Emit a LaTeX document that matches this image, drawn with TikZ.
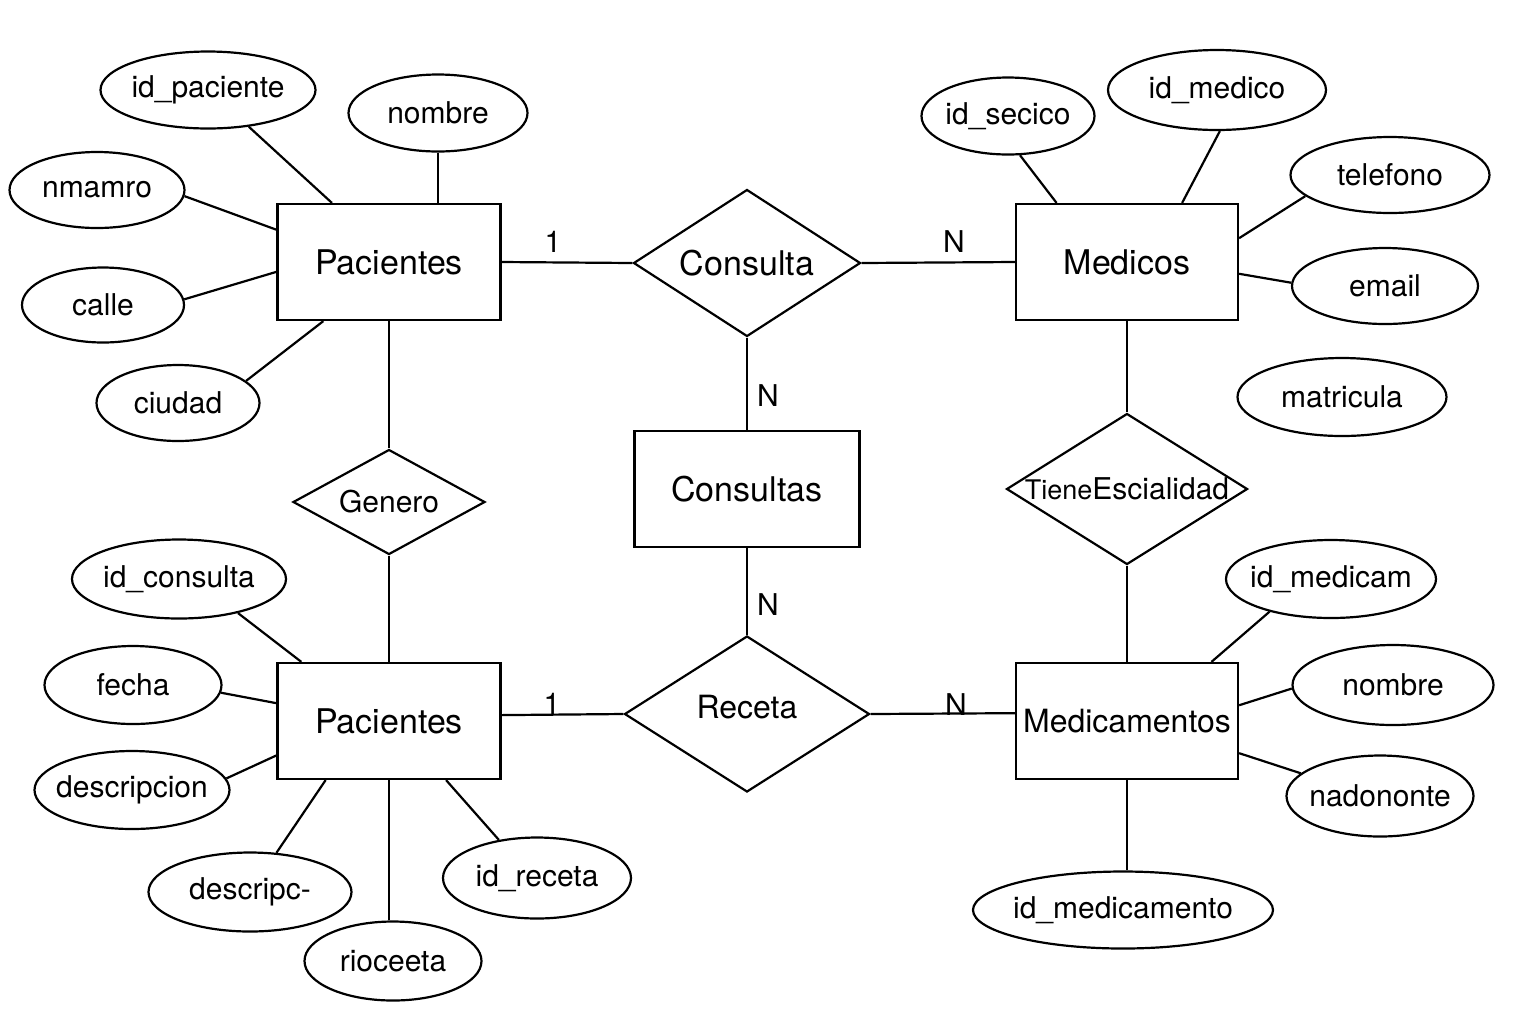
\documentclass[tikz,border=0pt]{standalone}
\usepackage{fontspec}
\setmainfont{TeX Gyre Heros}
\usetikzlibrary{shapes.geometric}
\tikzset{
  ln/.style={line width=1.1pt},
  sz/.style n args={2}{minimum width=#1*0.5pt,minimum height=#2*0.5pt},
  ent/.style={draw,line width=1.1pt,rectangle,inner sep=0pt,minimum width=111.5pt,minimum height=58pt,font=\fontsize{17}{20}\selectfont},
  rel/.style={draw,line width=1.1pt,diamond,inner sep=0pt,font=\fontsize{17}{20}\selectfont},
  attr/.style={draw,line width=1.1pt,ellipse,inner sep=0pt,font=\fontsize{15}{18}\selectfont},
  card/.style={anchor=base,inner sep=0pt,font=\fontsize{15}{18}\selectfont}
}
\begin{document}
\begin{tikzpicture}[x=0.5pt,y=-0.5pt]
\useasboundingbox (0,0) rectangle (1536,1024);
\fill[white] (0,0) rectangle (1536,1024);

% entities and relationships
\node[ent] (p1) at (389,262) {\makebox[0pt]{Pacientes}};
\node[rel,sz={227}{147}] (consulta) at (747,263) {\makebox[0pt]{Consulta}};
\node[ent,sz={222}{116}] (med) at (1127,262) {\makebox[0pt]{Medicos}};
\node[ent,sz={225}{116}] (cons) at (747,489) {\makebox[0pt]{Consultas}};
\node[rel,sz={192}{105},font=\fontsize{15}{18}\selectfont] (gen) at (389,502) {\makebox[0pt]{Genero}};
\node[rel,sz={241}{151},font=\fontsize{15}{18}\selectfont] (tiene) at (1127,489) {\makebox[0pt]{{\fontsize{13.5}{15}\selectfont Tiene}Escialidad}};
\node[ent] (p2) at (389,721) {\makebox[0pt]{Pacientes}};
\node[rel,sz={245}{156},font=\fontsize{16}{19}\selectfont] (rec) at (747,714) {\makebox[0pt]{\raisebox{3.5pt}[\height][\depth]{Receta}}};
\node[ent,sz={222}{116},font=\fontsize{16}{19}\selectfont] (mdc) at (1127,721) {\makebox[0pt]{Medicamentos}};

% relationship connectors
\draw[ln] (p1.east) -- (consulta.west);
\draw[ln] (consulta.east) -- (med.west);
\draw[ln] (consulta.south) -- (cons.north);
\draw[ln] (cons.south) -- (rec.north);
\draw[ln] (p2.3.6) -- (rec.west);
\draw[ln] (rec.east) -- (mdc.176.4);
\draw[ln] (p1.south) -- (gen.north);
\draw[ln] (gen.south) -- (p2.north);
\draw[ln] (med.south) -- (tiene.north);
\draw[ln] (tiene.south) -- (mdc.north);

% cardinalities
\node[card] (c1) at (553,252) {1};
\node[card] (c2) at (954,252) {N};
\node[card] (c3) at (768,406) {N};
\node[card] (c4) at (768,615) {N};
\node[card] (c5) at (552,714) {1};
\node[card] (c6) at (956,715) {N};

% attributes of Pacientes (top)
\node[attr,sz={215}{77}] (a1) at (208,90) {\makebox[0pt]{id\_paciente}};
\node[attr,sz={179}{77}] (a2) at (438,113) {\makebox[0pt]{nombre}};
\node[attr,sz={175}{76}] (a3) at (97,190) {\makebox[0pt]{nmamro}};
\node[attr,sz={162}{75}] (a4) at (103,305) {\makebox[0pt]{calle}};
\node[attr,sz={163}{76}] (a5) at (178,403) {\makebox[0pt]{ciudad}};
\draw[ln] (a1.318.6) -- (p1.134.3);
\draw[ln] (a2.south) -- (a2.south |- p1.north);
\draw[ln] (a3.356.1) -- (p1.164);
\draw[ln] (a4.4.2) -- (p1.185.6);
\draw[ln] (a5.18.4) -- (p1.222.9);

% attributes of Medicos
\node[attr,sz={173}{77}] (b1) at (1008,116) {\makebox[0pt]{id\_secico}};
\node[attr,sz={218}{80}] (b2) at (1217,90) {\makebox[0pt]{id\_medico}};
\node[attr,sz={199}{76}] (b3) at (1390,175) {\makebox[0pt]{telefono}};
\node[attr,sz={186}{76}] (b4) at (1385,286) {\makebox[0pt]{email}};
\node[attr,sz={209}{78}] (b5) at (1342,397) {\makebox[0pt]{matricula}};
\draw[ln] (b1.287) -- (med.140);
\draw[ln] (b2.274) -- (med.47.6);
\draw[ln] (b3.194.8) -- (med.12.2);
\draw[ln] (b4.178) -- (med.354.9);

% attributes of Pacientes (bottom)
\node[attr,sz={214}{79}] (d1) at (179,579) {\makebox[0pt]{id\_consulta}};
\node[attr,sz={177}{78}] (d2) at (133,685) {\makebox[0pt]{fecha}};
\node[attr,sz={195}{78}] (d3) at (132,790) {\makebox[0pt]{descripcion}};
\node[attr,sz={203}{79}] (d4) at (250,892) {\makebox[0pt]{descripc-}};
\node[attr,sz={177}{79}] (d5) at (393,961) {\makebox[0pt]{rioceeta}};
\node[attr,sz={188}{81}] (d6) at (537,878) {\makebox[0pt]{id\_receta}};
\draw[ln] (d1.330) -- (p2.146.8);
\draw[ln] (d2.355.5) -- (p2.171.3);
\draw[ln] (d3.7) -- (p2.197.9);
\draw[ln] (d4.56) -- (p2.223.8);
\draw[ln] (p2.south) -- (p2.south |- d5.north);
\draw[ln] (d6.135.7) -- (p2.314.8);

% attributes of Medicamentos
\node[attr,sz={210}{78}] (e1) at (1331,579) {\makebox[0pt]{id\_medicam}};
\node[attr,sz={201}{80}] (e2) at (1393,685) {\makebox[0pt]{nombre}};
\node[attr,sz={187}{81}] (e3) at (1380,796) {\makebox[0pt]{nadononte}};
\node[attr,sz={300}{77}] (e4) at (1123,910) {\makebox[0pt]{id\_medicamento}};
\draw[ln] (e1.208.8) -- (mdc.35.6);
\draw[ln] (e2.182.9) -- (mdc.8.7);
\draw[ln] (e3.164.4) -- (mdc.344.9);
\draw[ln] (mdc.south) -- (mdc.south |- e4.north);
\end{tikzpicture}
\end{document}
